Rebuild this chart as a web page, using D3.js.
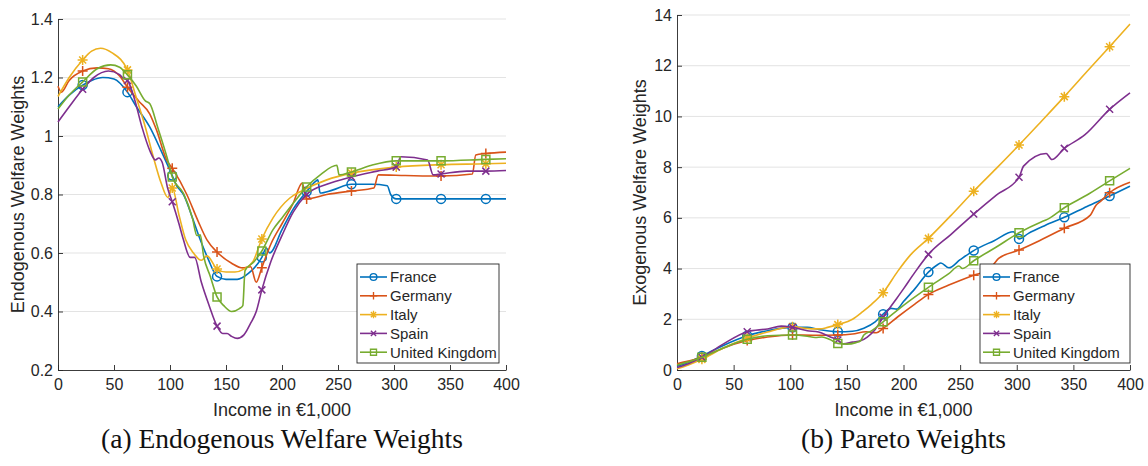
<!DOCTYPE html>
<html>
<head>
<meta charset="utf-8">
<style>
  body { margin: 0; background: #fff; }
  svg text { font-family: "Liberation Sans", Arial, sans-serif; fill: #262626; }
  .caption { font-family: "Liberation Serif", "DejaVu Serif", serif; font-size: 27.5px; fill: #111; }
</style>
</head>
<body>
<svg width="1148" height="466"></svg>
<script src="https://cdn.jsdelivr.net/npm/d3@7/dist/d3.min.js"></script>
<script>
// ---- data ----
var countries = ["France", "Germany", "Italy", "Spain", "United Kingdom"];
var colors = ["#0072BD", "#D95319", "#EDB120", "#7E2F8E", "#77AC30"];
var symbols = ["circle", "plus", "asterisk", "cross", "square"];

var incomeTicks = [0, 50, 100, 150, 200, 250, 300, 350, 400];
var endoTicks = [0.2, 0.4, 0.6, 0.8, 1, 1.2, 1.4];
var endoTickLabels = ["0.2", "0.4", "0.6", "0.8", "1", "1.2", "1.4"];
var paretoTicks = [0, 2, 4, 6, 8, 10, 12, 14];
var markerX = [22, 62, 102, 142, 182, 222, 262, 302, 342, 382];

// (a) endogenous welfare weights, [income, weight]
var endoFrance = [[0,1.10],[10,1.14],[22,1.174],[30,1.19],[40,1.20],[50,1.195],[62,1.15],[70,1.10],[82,1.03],[92,0.95],[102,0.865],[106,0.83],[109,0.815],[112,0.80],[120,0.72],[127,0.645],[134,0.58],[142,0.52],[150,0.51],[160,0.51],[170,0.53],[182,0.585],[186,0.617],[189,0.60],[200,0.68],[210,0.75],[222,0.81],[230,0.845],[232,0.85],[234,0.805],[245,0.815],[262,0.835],[280,0.835],[294,0.83],[297,0.80],[302,0.785],[342,0.785],[382,0.785],[400,0.785]];
var endoGermany = [[0,1.17],[3,1.15],[10,1.19],[22,1.222],[35,1.233],[45,1.23],[55,1.205],[62,1.167],[72,1.12],[82,1.075],[88,1.02],[97,0.918],[102,0.89],[115,0.80],[125,0.71],[133,0.645],[142,0.603],[155,0.565],[165,0.549],[172,0.553],[177,0.50],[182,0.55],[190,0.63],[200,0.70],[210,0.77],[218,0.839],[222,0.785],[240,0.80],[262,0.812],[282,0.822],[286,0.867],[310,0.865],[342,0.863],[370,0.87],[373,0.935],[382,0.94],[400,0.945]];
var endoItaly = [[0,1.135],[10,1.20],[22,1.26],[30,1.29],[38,1.30],[48,1.285],[62,1.226],[70,1.13],[78,1.03],[85,0.93],[92,0.84],[98,0.79],[102,0.822],[108,0.73],[114,0.645],[121,0.60],[128,0.575],[133,0.59],[142,0.545],[150,0.535],[158,0.535],[166,0.545],[174,0.57],[182,0.648],[192,0.72],[207,0.788],[219,0.815],[240,0.85],[262,0.873],[302,0.894],[342,0.902],[382,0.905],[400,0.907]];
var endoSpain = [[0,1.048],[10,1.10],[22,1.16],[32,1.20],[45,1.222],[55,1.21],[58,1.198],[62,1.19],[68,1.13],[75,1.03],[82,0.95],[87,0.918],[90,0.925],[93,0.91],[98,0.82],[102,0.775],[108,0.70],[112,0.645],[118,0.585],[122,0.585],[128,0.50],[135,0.42],[142,0.35],[147,0.325],[151,0.325],[155,0.315],[160,0.308],[166,0.32],[172,0.36],[177,0.40],[182,0.474],[190,0.57],[200,0.66],[210,0.74],[222,0.80],[240,0.835],[262,0.86],[285,0.88],[302,0.894],[306,0.929],[330,0.918],[335,0.867],[342,0.87],[365,0.88],[382,0.88],[400,0.882]];
var endoUK = [[0,1.092],[10,1.14],[22,1.185],[35,1.23],[47,1.243],[55,1.235],[62,1.209],[70,1.17],[78,1.12],[82,1.11],[89,1.03],[98,0.918],[102,0.86],[112,0.804],[120,0.72],[124,0.66],[127,0.662],[130,0.59],[136,0.52],[142,0.45],[148,0.42],[155,0.40],[162,0.41],[165,0.42],[167,0.54],[175,0.57],[182,0.607],[192,0.68],[200,0.72],[210,0.77],[222,0.826],[235,0.87],[249,0.90],[251,0.867],[262,0.877],[280,0.90],[302,0.915],[342,0.915],[382,0.92],[400,0.922]];

// (b) exogenous (Pareto) welfare weights, [income, weight]
var paretoFrance = [[0,0.15],[10,0.3],[22,0.55],[40,0.95],[62,1.35],[80,1.55],[102,1.68],[115,1.68],[125,1.6],[142,1.51],[155,1.53],[165,1.65],[175,1.9],[182,2.2],[189,2.43],[194,2.40],[200,2.7],[210,3.2],[222,3.86],[230,4.15],[233,4.22],[240,4.03],[250,4.35],[262,4.71],[280,5.1],[297,5.45],[302,5.17],[310,5.38],[325,5.7],[342,6.02],[362,6.45],[382,6.86],[400,7.25]];
var paretoGermany = [[0,0.25],[10,0.35],[22,0.5],[40,0.85],[62,1.16],[80,1.3],[102,1.38],[120,1.37],[142,1.38],[155,1.42],[167,1.51],[176,1.47],[182,1.64],[195,2.1],[210,2.6],[222,2.98],[240,3.35],[262,3.74],[275,3.95],[279,4.14],[284,4.4],[302,4.73],[320,5.1],[342,5.59],[365,6.11],[370,6.5],[374,6.65],[382,6.99],[400,7.4]];
var paretoItaly = [[0,0.05],[10,0.2],[22,0.42],[40,0.85],[62,1.25],[80,1.5],[102,1.71],[113,1.64],[126,1.62],[133,1.68],[142,1.79],[155,2.0],[164,2.3],[172,2.6],[182,3.05],[195,3.9],[206,4.53],[222,5.19],[242,6.1],[262,7.05],[282,7.95],[302,8.87],[322,9.82],[342,10.78],[362,11.77],[382,12.75],[400,13.64]];
var paretoSpain = [[0,0.1],[10,0.25],[22,0.5],[40,1.0],[62,1.51],[80,1.62],[92,1.73],[102,1.68],[115,1.55],[125,1.5],[135,1.31],[142,1.18],[147,1.03],[155,1.1],[162,1.15],[168,1.3],[175,1.6],[182,2.08],[192,2.7],[200,3.2],[210,3.85],[222,4.56],[242,5.35],[262,6.15],[282,6.9],[302,7.6],[306,8.04],[326,8.54],[331,8.3],[342,8.74],[360,9.27],[382,10.28],[400,10.93]];
var paretoUK = [[0,0.2],[10,0.32],[22,0.5],[40,0.85],[62,1.21],[80,1.35],[102,1.38],[115,1.33],[122,1.28],[128,1.3],[135,1.2],[142,1.05],[150,1.02],[158,1.08],[162,1.15],[165,1.38],[172,1.55],[182,1.9],[200,2.55],[222,3.26],[240,3.8],[249,4.1],[252,4.0],[262,4.31],[282,4.85],[302,5.41],[322,5.85],[327,5.94],[342,6.4],[362,6.9],[382,7.46],[400,7.95]];

var svg = d3.select("svg");

// marker shapes drawn as MATLAB-like open glyphs
function markerPath(type) {
  if (type === "circle") return "M4.5,0A4.5,4.5 0 1,1 -4.5,0A4.5,4.5 0 1,1 4.5,0Z";
  if (type === "square") return "M-4,-4H4V4H-4Z";
  if (type === "plus") return "M-5,0H5M0,-5V5";
  if (type === "cross") return "M-3.5,-3.5L3.5,3.5M-3.5,3.5L3.5,-3.5";
  // asterisk
  return "M-5,0H5M0,-5V5M-3.5,-3.5L3.5,3.5M-3.5,3.5L3.5,-3.5";
}

function drawPanel(p) {
  var x = d3.scaleLinear().domain([0, 400]).range([p.left, p.right]);
  var y = d3.scaleLinear().domain(p.yDomain).range([370, p.top]);
  var g = svg.append("g");

  // horizontal grid
  g.append("g").selectAll("line")
    .data(p.yTicks.filter(function (d) { return d !== p.yDomain[0]; }))
    .enter().append("line")
    .attr("x1", p.left).attr("x2", p.right)
    .attr("y1", function (d) { return y(d); }).attr("y2", function (d) { return y(d); })
    .attr("stroke", "#e3e3e3").attr("stroke-width", 1);

  // axes
  var ax = g.append("g").attr("transform", "translate(0,370)")
    .call(d3.axisBottom(x).tickValues(incomeTicks).tickFormat(d3.format("d"))
      .tickSizeInner(-5).tickSizeOuter(0).tickPadding(9));
  var ay = g.append("g").attr("transform", "translate(" + p.left + ",0)")
    .call(d3.axisLeft(y).tickValues(p.yTicks)
      .tickFormat(function (d, i) { return p.yLabels[i]; })
      .tickSizeInner(-5).tickSizeOuter(0).tickPadding(5));
  [ax, ay].forEach(function (a) {
    a.select(".domain").attr("stroke", "#262626").attr("stroke-width", 0.9);
    a.selectAll(".tick line").attr("stroke", "#262626").attr("stroke-width", 0.9);
    a.selectAll(".tick text").attr("font-size", "16px").attr("fill", "#262626")
      .attr("font-family", "Liberation Sans, Arial, sans-serif");
  });

  g.append("text")
    .attr("x", (p.left + p.right) / 2).attr("y", 416)
    .attr("text-anchor", "middle").attr("font-size", "18px")
    .text("Income in \u20ac1,000");
  g.append("text")
    .attr("transform", "translate(" + p.yLabelX + "," + ((370 + p.top) / 2) + ") rotate(-90)")
    .attr("text-anchor", "middle").attr("dy", "0.35em").attr("font-size", "18px")
    .text(p.yTitle);

  var line = d3.line()
    .x(function (d) { return x(d[0]); })
    .y(function (d) { return y(d[1]); })
    .curve(d3.curveMonotoneX);

  p.series.forEach(function (s, i) {
    g.append("path").datum(s)
      .attr("d", line).attr("fill", "none")
      .attr("stroke", colors[i]).attr("stroke-width", 1.6);
    g.append("g").selectAll("path")
      .data(s.filter(function (d) { return markerX.indexOf(d[0]) >= 0; }))
      .enter().append("path")
      .attr("transform", function (d) { return "translate(" + x(d[0]) + "," + y(d[1]) + ")"; })
      .attr("d", markerPath(symbols[i]))
      .attr("fill", "none").attr("stroke", colors[i]).attr("stroke-width", 1.5);
  });

  // legend
  var lg = g.append("g");
  lg.append("rect")
    .attr("x", p.legend.x).attr("y", 264)
    .attr("width", p.legend.w).attr("height", 99)
    .attr("fill", "#fff").attr("stroke", "#262626").attr("stroke-width", 0.9);
  countries.forEach(function (c, i) {
    var yy = 277 + i * 18.8;
    lg.append("line")
      .attr("x1", p.legend.x + 3).attr("x2", p.legend.x + 30)
      .attr("y1", yy).attr("y2", yy)
      .attr("stroke", colors[i]).attr("stroke-width", 1.6);
    lg.append("path")
      .attr("transform", "translate(" + (p.legend.x + 16.5) + "," + yy + ") scale(0.75)")
      .attr("d", markerPath(symbols[i]))
      .attr("fill", "none").attr("stroke", colors[i]).attr("stroke-width", 1.8);
    lg.append("text")
      .attr("x", p.legend.x + 33).attr("y", yy).attr("dy", "0.36em")
      .attr("font-size", "15px").text(c);
  });

  svg.append("text").attr("class", "caption")
    .attr("x", (p.left + p.right) / 2).attr("y", 448)
    .attr("text-anchor", "middle").text(p.caption);
}

drawPanel({
  left: 58, right: 506, top: 19, yDomain: [0.2, 1.4],
  yTicks: endoTicks, yLabels: endoTickLabels, yLabelX: 18,
  yTitle: "Endogenous Welfare Weights",
  series: [endoFrance, endoGermany, endoItaly, endoSpain, endoUK],
  legend: { x: 357, w: 142 },
  caption: "(a) Endogenous Welfare Weights"
});

drawPanel({
  left: 677, right: 1130, top: 15, yDomain: [0, 14],
  yTicks: paretoTicks, yLabels: paretoTicks.map(String), yLabelX: 640,
  yTitle: "Exogenous Welfare Weights",
  series: [paretoFrance, paretoGermany, paretoItaly, paretoSpain, paretoUK],
  legend: { x: 980, w: 150 },
  caption: "(b) Pareto Weights"
});
</script>
</body>
</html>
